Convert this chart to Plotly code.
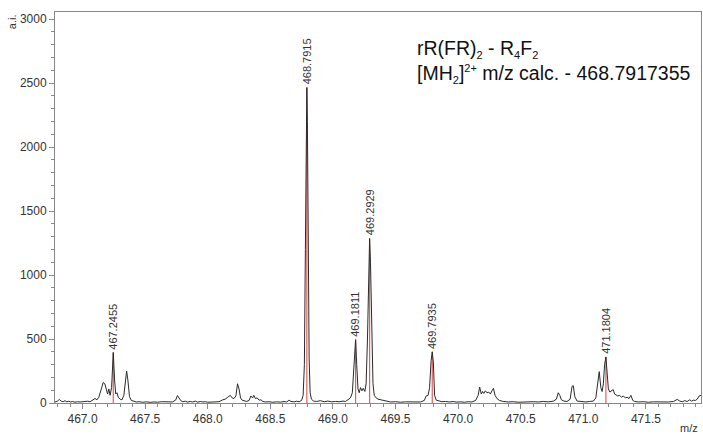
import plotly.graph_objects as go

# Profile spectrum (m/z, intensity)
MZ = [466.780, 466.800, 466.815, 466.830, 466.845, 466.860, 466.875, 466.890, 466.905, 466.920,
      466.940, 466.960, 466.980, 467.000, 467.020, 467.040, 467.060, 467.080, 467.100, 467.115,
      467.130, 467.150, 467.165, 467.178, 467.190, 467.200, 467.210, 467.220, 467.232, 467.2455,
      467.256, 467.265, 467.275, 467.285, 467.300, 467.315, 467.330, 467.342, 467.352, 467.362,
      467.375, 467.390, 467.410, 467.430, 467.450, 467.480, 467.510, 467.540, 467.570, 467.600,
      467.630, 467.660, 467.690, 467.720, 467.745, 467.758, 467.770, 467.785, 467.800, 467.820,
      467.840, 467.860, 467.880, 467.900, 467.920, 467.940, 467.960, 467.980, 468.000, 468.030,
      468.060, 468.090, 468.120, 468.140, 468.160, 468.180, 468.195, 468.210, 468.225, 468.238,
      468.250, 468.262, 468.275, 468.290, 468.310, 468.330, 468.345, 468.358, 468.368, 468.380,
      468.395, 468.410, 468.425, 468.440, 468.460, 468.490, 468.520, 468.550, 468.580, 468.610,
      468.630, 468.650, 468.665, 468.690, 468.710, 468.730, 468.750, 468.762, 468.772, 468.780,
      468.787, 468.7915, 468.796, 468.803, 468.810, 468.818, 468.828, 468.845, 468.870, 468.900,
      468.930, 468.960, 468.990, 469.020, 469.050, 469.080, 469.100, 469.120, 469.140, 469.155,
      469.168, 469.1811, 469.190, 469.200, 469.210, 469.220, 469.232, 469.242, 469.255, 469.265,
      469.276, 469.285, 469.2929, 469.300, 469.310, 469.320, 469.330, 469.345, 469.360, 469.380,
      469.400, 469.430, 469.460, 469.500, 469.540, 469.580, 469.620, 469.660, 469.700, 469.730,
      469.745, 469.760, 469.772, 469.784, 469.7935, 469.802, 469.812, 469.825, 469.845, 469.870,
      469.900, 469.930, 469.960, 469.990, 470.020, 470.050, 470.080, 470.110, 470.140, 470.160,
      470.172, 470.185, 470.195, 470.205, 470.218, 470.230, 470.245, 470.258, 470.270, 470.282,
      470.295, 470.310, 470.330, 470.360, 470.400, 470.440, 470.480, 470.520, 470.560, 470.600,
      470.640, 470.680, 470.720, 470.760, 470.785, 470.800, 470.812, 470.825, 470.845, 470.870,
      470.895, 470.910, 470.920, 470.932, 470.950, 470.980, 471.020, 471.050, 471.080, 471.100,
      471.115, 471.127, 471.140, 471.150, 471.160, 471.170, 471.1804, 471.190, 471.200, 471.212,
      471.225, 471.238, 471.250, 471.262, 471.275, 471.290, 471.305, 471.320, 471.335, 471.350,
      471.365, 471.380, 471.395, 471.410, 471.440, 471.480, 471.520, 471.560, 471.600, 471.640,
      471.680, 471.720, 471.750, 471.770, 471.790, 471.810, 471.830, 471.850, 471.865, 471.880,
      471.895, 471.910, 471.925, 471.940]

INTENSITY = [8, 15, 28, 14, 10, 18, 9, 14, 8, 12,
             6, 10, 8, 11, 9, 14, 10, 22, 35, 25,
             45, 110, 160, 150, 95, 70, 110, 60, 120, 395,
             180, 70, 80, 45, 30, 25, 60, 200, 250, 180,
             50, 20, 12, 8, 10, 6, 9, 5, 8, 6,
             10, 7, 9, 8, 25, 58, 40, 18, 10, 14,
             7, 12, 8, 15, 6, 12, 8, 10, 6, 9,
             7, 10, 25, 30, 45, 60, 40, 35, 55, 150,
             110, 40, 22, 15, 12, 20, 55, 40, 60, 35,
             40, 22, 25, 12, 8, 10, 6, 9, 7, 11,
             8, 22, 12, 9, 14, 10, 20, 60, 300, 1200,
             2200, 2465, 2200, 1200, 350, 80, 30, 15, 12, 18,
             10, 15, 9, 12, 10, 15, 12, 25, 40, 80,
             300, 495, 300, 110, 80, 120, 95, 115, 90, 150,
             500, 1100, 1285, 1100, 500, 150, 60, 40, 30, 25,
             18, 12, 8, 10, 6, 9, 7, 10, 8, 20,
             55, 60, 120, 330, 400, 320, 60, 22, 14, 10,
             12, 8, 11, 7, 9, 6, 10, 8, 20, 60,
             125, 70, 90, 75, 95, 80, 85, 70, 95, 115,
             60, 35, 20, 12, 8, 10, 6, 9, 7, 10,
             8, 12, 9, 14, 30, 80, 60, 25, 15, 12,
             30, 130, 135, 50, 15, 10, 8, 12, 15, 40,
             180, 245, 120, 90, 150, 300, 360, 250, 110, 85,
             95, 105, 70, 60, 55, 60, 45, 55, 40, 45,
             35, 60, 20, 12, 8, 10, 6, 9, 7, 10,
             8, 12, 28, 15, 10, 18, 12, 25, 15, 22,
             20, 30, 55, 60]

# Labelled peaks
PEAK_MZ = [467.2455, 468.7915, 469.1811, 469.2929, 469.7935, 471.1804]
PEAK_HEIGHT = [395, 2465, 495, 1285, 400, 360]
PEAK_LABELS = ["467.2455", "468.7915", "469.1811", "469.2929", "469.7935", "471.1804"]

X_TICKS = [467.0, 467.5, 468.0, 468.5, 469.0, 469.5, 470.0, 470.5, 471.0, 471.5]
Y_TICKS = [0, 500, 1000, 1500, 2000, 2500, 3000]

FONT = "Liberation Sans, Arial, sans-serif"

fig = go.Figure()

# red sticks at labelled centroids
sx, sy = [], []
for m, h in zip(PEAK_MZ, PEAK_HEIGHT):
    sx += [m, m, None]
    sy += [0, h, None]
fig.add_trace(go.Scatter(x=sx, y=sy, mode="lines",
                         line=dict(color="rgba(220,40,40,0.75)", width=1.2),
                         hoverinfo="skip", showlegend=False))

fig.add_trace(go.Scatter(x=MZ, y=INTENSITY, mode="lines",
                         line=dict(color="#2a2a2a", width=1),
                         showlegend=False))

for m, h, t in zip(PEAK_MZ, PEAK_HEIGHT, PEAK_LABELS):
    fig.add_annotation(x=m, y=h, text=t, textangle=-90, showarrow=False,
                       xanchor="center", yanchor="bottom", yshift=1,
                       font=dict(family=FONT, size=11, color="#333"))

SUB = '<span style="font-size:11px">'
fig.add_annotation(xref="paper", yref="paper", x=0.557, y=0.905, xanchor="left", yanchor="middle",
                   text=f"rR(FR)<sub>{SUB}2</span></sub> - R<sub>{SUB}4</span></sub>F<sub>{SUB}2</span></sub>",
                   showarrow=False, font=dict(family=FONT, size=19.5, color="#111"))
fig.add_annotation(xref="paper", yref="paper", x=0.557, y=0.842, xanchor="left", yanchor="middle",
                   text=f"[MH<sub>{SUB}2</span></sub>]<sup>{SUB}2+</span></sup> m/z calc. - 468.7917355",
                   showarrow=False, font=dict(family=FONT, size=19.5, color="#111"))

# axis titles
fig.add_annotation(xref="paper", yref="paper", x=-0.067, y=1.0, xanchor="center", yanchor="top",
                   text="a.i.", textangle=-90, showarrow=False,
                   font=dict(family=FONT, size=11, color="#333"))
fig.add_annotation(xref="paper", yref="paper", x=0.998, y=-0.064, xanchor="right", yanchor="middle",
                   text="m/z", showarrow=False,
                   font=dict(family=FONT, size=11, color="#333"))

fig.update_layout(
    width=703, height=437,
    margin=dict(l=55, r=2, t=12, b=34),
    paper_bgcolor="white", plot_bgcolor="white",
    font=dict(family=FONT, size=12, color="#333"),
    xaxis=dict(range=[466.78, 471.94], tickvals=X_TICKS, tickformat=".1f",
               showgrid=False, zeroline=False, showline=True, linecolor="#888",
               mirror=True, ticks="outside", ticklen=5, tickcolor="#888",
               minor=dict(dtick=0.1, ticks="outside", ticklen=3, tickcolor="#888", showgrid=False),
               tickfont=dict(size=12, color="#333")),
    yaxis=dict(range=[0, 3055], tickvals=Y_TICKS,
               showgrid=False, zeroline=False, showline=True, linecolor="#888",
               mirror=True, ticks="outside", ticklen=5, tickcolor="#888",
               minor=dict(dtick=100, ticks="outside", ticklen=3, tickcolor="#888", showgrid=False),
               tickfont=dict(size=12, color="#333")),
)

fig.write_html("out.html")
